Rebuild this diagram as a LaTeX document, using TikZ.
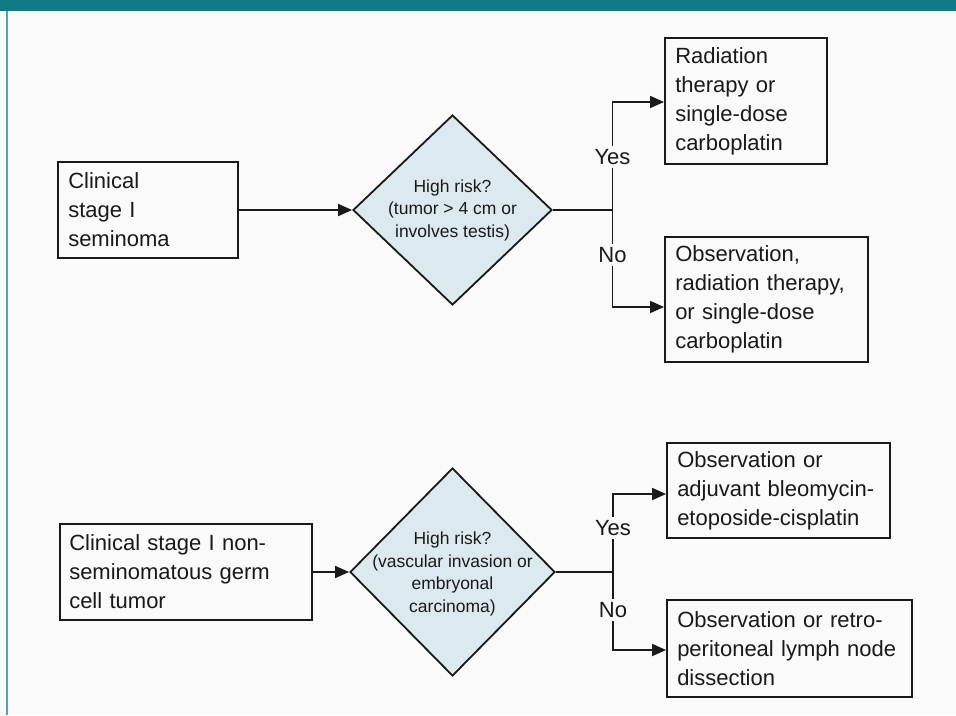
\documentclass[tikz,border=0pt]{standalone}
\usepackage{fontspec}
\setmainfont{Liberation Sans}
\usetikzlibrary{shapes.geometric,arrows.meta}
\definecolor{teal1}{RGB}{18,121,134}
\definecolor{paper}{RGB}{250,250,250}
\definecolor{diafill}{RGB}{220,234,240}
\definecolor{ink}{RGB}{25,25,25}
\tikzset{
  box/.style={draw=ink, line width=1.9pt, rectangle, inner sep=0pt, fill=paper},
  boxtext/.style={text=ink, align=left, font=\fontsize{22}{29}\selectfont, inner sep=0pt},
  dia/.style={draw=ink, line width=1.8pt, diamond, fill=diafill, inner sep=0pt},
  diatext/.style={text=ink, align=center, font=\fontsize{17.5}{22.5}\selectfont, inner sep=0pt},
  lab/.style={text=ink, font=\fontsize{22}{26}\selectfont, fill=paper, inner xsep=1pt, inner ysep=3pt},
  arr/.style={draw=ink, line width=1.8pt, -{Triangle[length=14pt,width=12pt]}},
  ln/.style={draw=ink, line width=1.8pt}
}
\begin{document}
\begin{tikzpicture}[x=1pt,y=-1pt]
\useasboundingbox (0,0) rectangle (956,715);
\fill[paper] (0,0) rectangle (956,715);
\fill[teal1] (0,0) rectangle (956,11);
\fill[teal1!70] (5.5,11) rectangle (7.5,715);

% ---------- upper section ----------
\node[box, minimum width=180pt, minimum height=96pt] (a1) at (148,210) {};
\node[boxtext, text width=160pt, anchor=west] at ([xshift=11pt]a1.west) {Clinical\\stage I\\seminoma};

\node[dia, minimum width=199pt, minimum height=190pt] (d1) at (452.5,210) {};
\node[diatext] at (d1.center) {High risk?\\(tumor > 4 cm or\\involves testis)};

\node[box, minimum width=162pt, minimum height=126pt] (y1) at (746,101) {};
\node[boxtext, text width=145pt, anchor=west] at ([xshift=11pt]y1.west) {Radiation\\therapy or\\single-dose\\carboplatin};

\node[box, minimum width=203pt, minimum height=125pt] (n1) at (766.5,299.5) {};
\node[boxtext, text width=185pt, anchor=west] at ([xshift=11pt]n1.west) {Observation,\\radiation therapy,\\or single-dose\\carboplatin};

\coordinate (j1) at (612.5,210);
\draw[arr] (a1.east) -- (d1.west);
\draw[ln] (d1.east) -- (j1);
\draw[arr] (j1) |- (y1.west |- 0,102);
\draw[arr] (j1) |- (n1.west |- 0,307);
\node[lab] (yes1) at (612.5,157) {Yes};
\node[lab] (no1) at (612.5,255) {No};

% ---------- lower section ----------
\node[box, minimum width=252pt, minimum height=96pt] (a2) at (186,572) {};
\node[boxtext, text width=235pt, anchor=west] at ([xshift=10pt]a2.west) {Clinical stage I non-\\seminomatous germ\\cell tumor};

\node[dia, minimum width=205pt, minimum height=208pt] (d2) at (452.5,572) {};
\node[diatext] at ([yshift=-2pt]d2.center) {High risk?\\(vascular invasion or\\embryonal\\carcinoma)};

\node[box, minimum width=223pt, minimum height=95pt] (y2) at (778.5,490.5) {};
\node[boxtext, text width=205pt, anchor=west] at ([xshift=11pt]y2.west) {Observation or\\adjuvant bleomycin-\\etoposide-cisplatin};

\node[box, minimum width=245pt, minimum height=97pt] (n2) at (789.5,648.5) {};
\node[boxtext, text width=228pt, anchor=west] at ([xshift=11pt]n2.west) {Observation or retro-\\peritoneal lymph node\\dissection};

\coordinate (j2) at (613,572);
\draw[arr] (a2.east) -- (d2.west);
\draw[ln] (d2.east) -- (j2);
\draw[arr] (j2) |- (y2.west |- 0,494);
\draw[arr] (j2) |- (n2.west |- 0,650);
\node[lab] (yes2) at (613,528) {Yes};
\node[lab] (no2) at (613,610) {No};
\end{tikzpicture}
\end{document}
